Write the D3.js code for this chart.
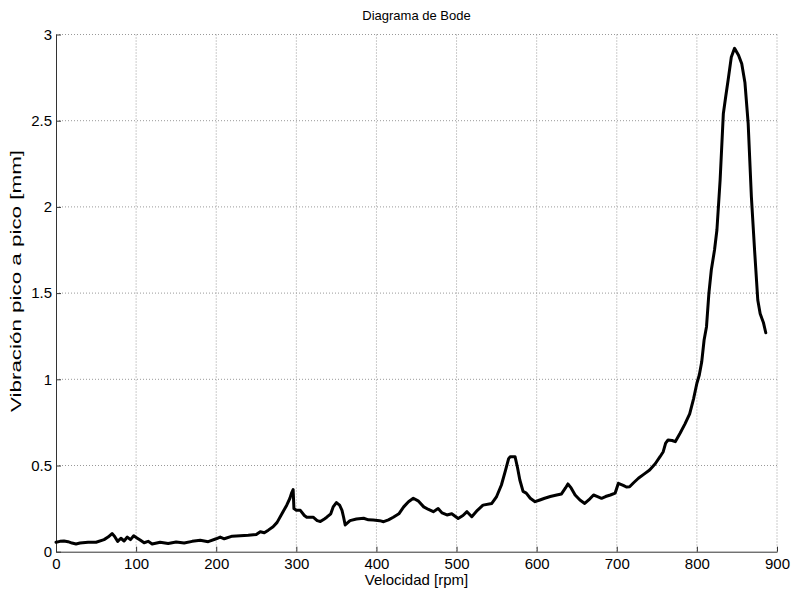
<!DOCTYPE html>
<html>
<head>
<meta charset="utf-8">
<script src="https://cdn.jsdelivr.net/npm/d3@7"></script>
<style>
  body { margin: 0; background: #fff; }
  text { font-family: "Liberation Sans", Arial, sans-serif; fill: #000; }
</style>
</head>
<body>
<div id="bode"></div>
<script>
// Speed [rpm] and peak-to-peak vibration [mm]
var speed = [0, 5, 10, 15, 20, 25, 30, 40, 50, 60, 65, 70, 73, 77, 81, 85, 89, 93, 97, 101,
  105, 110, 115, 120, 130, 140, 150, 160, 170, 180, 190, 200, 205, 210, 220, 230, 240, 250, 255, 260,
  265, 271, 276, 282, 288, 292, 294, 296, 297, 300, 305, 310, 313, 321, 326, 330, 335, 338, 343, 346,
  350, 354, 357, 359, 361, 367, 375, 384, 390, 396, 404, 409, 415, 421, 428, 434, 440, 446, 452, 459,
  465, 471, 477, 482, 488, 494, 502, 508, 513, 519, 526, 533, 544, 550, 556, 561, 565, 567, 573, 576,
  579, 583, 587, 592, 598, 604, 610, 617, 625, 631, 636, 639, 643, 648, 654, 660, 665, 671, 676, 681,
  686, 692, 698, 702, 708, 712, 716, 721, 727, 734, 741, 748, 754, 758, 761, 764, 769, 773, 779, 785,
  791, 796, 800, 803, 806, 809, 812, 815, 818, 822, 825, 829, 833, 836, 839, 843, 847, 852, 856, 860,
  864, 868, 872, 876, 879, 883, 886];
var vibration = [0.055, 0.06, 0.062, 0.058, 0.05, 0.045, 0.05, 0.055, 0.055, 0.07, 0.085, 0.105, 0.09, 0.06, 0.078, 0.062, 0.085, 0.07, 0.092, 0.08,
  0.068, 0.052, 0.06, 0.045, 0.055, 0.048, 0.056, 0.05, 0.06, 0.066, 0.058, 0.075, 0.085, 0.075, 0.09, 0.092, 0.095, 0.1, 0.116, 0.11,
  0.125, 0.145, 0.17, 0.22, 0.27, 0.31, 0.34, 0.36, 0.25, 0.24, 0.24, 0.21, 0.2, 0.2, 0.18, 0.175, 0.19, 0.2, 0.22, 0.26,
  0.285, 0.27, 0.24, 0.2, 0.155, 0.18, 0.19, 0.194, 0.185, 0.184, 0.18, 0.174, 0.185, 0.2, 0.22, 0.26, 0.29, 0.31, 0.295, 0.26,
  0.245, 0.232, 0.25, 0.225, 0.213, 0.22, 0.193, 0.21, 0.232, 0.203, 0.24, 0.27, 0.28, 0.32, 0.387, 0.47, 0.54, 0.551, 0.551, 0.49,
  0.416, 0.35, 0.34, 0.31, 0.29, 0.3, 0.31, 0.32, 0.329, 0.335, 0.37, 0.393, 0.37, 0.329, 0.3, 0.28, 0.3, 0.329, 0.32, 0.31,
  0.32, 0.329, 0.34, 0.397, 0.385, 0.375, 0.377, 0.4, 0.426, 0.45, 0.474, 0.51, 0.551, 0.58, 0.63, 0.648, 0.645, 0.638, 0.687, 0.74,
  0.8, 0.89, 0.977, 1.025, 1.1, 1.228, 1.305, 1.5, 1.634, 1.75, 1.866, 2.156, 2.54, 2.64, 2.736, 2.87, 2.92, 2.88, 2.83, 2.72,
  2.485, 2.06, 1.75, 1.46, 1.38, 1.33, 1.27];
var xTicks = [0, 100, 200, 300, 400, 500, 600, 700, 800, 900];
var yTicks = [0, 0.5, 1, 1.5, 2, 2.5, 3];

var totalWidth = 793;
var totalHeight = 594;
var margin = { top: 34.5, right: 16, bottom: 42.3, left: 56 };
var width = totalWidth - margin.left - margin.right;
var height = totalHeight - margin.top - margin.bottom;

var x = d3.scaleLinear().domain([0, 900]).range([0, width]);
var y = d3.scaleLinear().domain([0, 3]).range([height, 0]);

var svg = d3.select('#bode')
  .append('svg')
  .attr('width', totalWidth)
  .attr('height', totalHeight);

var main = svg.append('g')
  .attr('transform', 'translate(' + margin.left + ',' + margin.top + ')');

// Dotted grid
main.append('g')
  .selectAll('line')
  .data(xTicks.slice(1))
  .enter().append('line')
  .attr('x1', function(d) { return x(d); })
  .attr('x2', function(d) { return x(d); })
  .attr('y1', 0)
  .attr('y2', height)
  .attr('stroke', '#999')
  .attr('stroke-dasharray', '1,2');

main.append('g')
  .selectAll('line')
  .data(yTicks.slice(1))
  .enter().append('line')
  .attr('x1', 0)
  .attr('x2', width)
  .attr('y1', function(d) { return y(d); })
  .attr('y2', function(d) { return y(d); })
  .attr('stroke', '#999')
  .attr('stroke-dasharray', '1,2');

// Axes, ticks pointing inward
var xAxis = main.append('g')
  .attr('transform', 'translate(0,' + height + ')')
  .call(d3.axisBottom(x).tickValues(xTicks).tickSizeInner(-5).tickSizeOuter(0).tickPadding(7));

var yAxis = main.append('g')
  .call(d3.axisLeft(y).tickValues(yTicks).tickFormat(d3.format('')).tickSizeInner(-5).tickSizeOuter(0).tickPadding(4));

[xAxis, yAxis].forEach(function(a) {
  a.select('.domain').attr('stroke', '#333');
  a.selectAll('.tick line').attr('stroke', '#333');
  a.selectAll('.tick text')
    .attr('font-family', '"Liberation Sans", Arial, sans-serif')
    .attr('font-size', 15)
    .attr('fill', '#000');
});

// The curve
var points = speed.map(function(s, i) { return { speed: s, vib: vibration[i] }; });

var line = d3.line()
  .x(function(d) { return x(d.speed); })
  .y(function(d) { return y(d.vib); });

main.append('path')
  .datum(points)
  .attr('d', line)
  .attr('fill', 'none')
  .attr('stroke', '#000')
  .attr('stroke-width', 3)
  .attr('stroke-linejoin', 'round')
  .attr('stroke-linecap', 'round');

// Labels
svg.append('text')
  .attr('x', margin.left + width / 2)
  .attr('y', 20)
  .attr('text-anchor', 'middle')
  .attr('font-size', 13)
  .text('Diagrama de Bode');

svg.append('text')
  .attr('x', margin.left + width / 2)
  .attr('y', 585)
  .attr('text-anchor', 'middle')
  .attr('font-size', 15)
  .text('Velocidad [rpm]');

svg.append('text')
  .attr('transform', 'translate(21,' + 281 + ') rotate(-90)')
  .attr('text-anchor', 'middle')
  .attr('font-size', 15)
  .attr('textLength', 262)
  .attr('lengthAdjust', 'spacingAndGlyphs')
  .text('Vibración pico a pico [mm]');
</script>
</body>
</html>
